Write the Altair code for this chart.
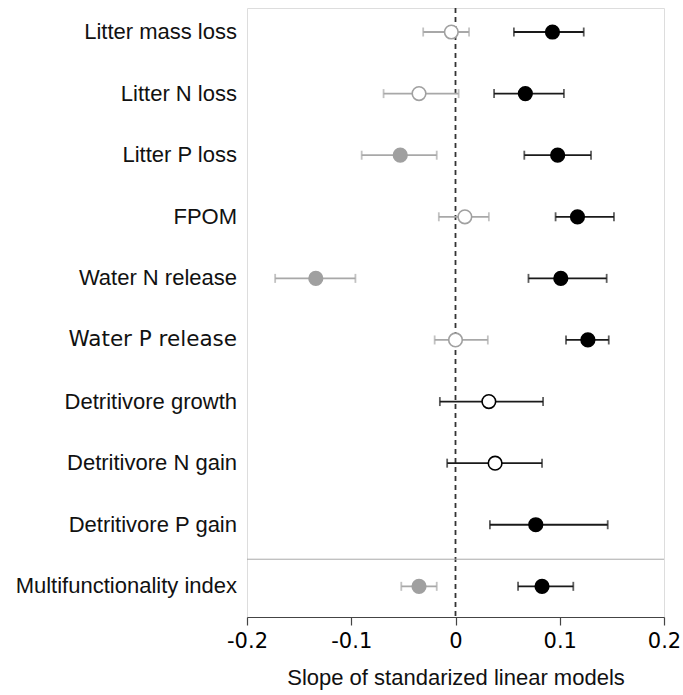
import altair as alt
import pandas as pd

labels = ["Litter mass loss", "Litter N loss", "Litter P loss", "FPOM",
          "Water N release", "Water P release", "Detritivore growth",
          "Detritivore N gain", "Detritivore P gain", "Multifunctionality index"]

# left (grey) series
grey_est = [-0.004, -0.035, -0.053, 0.009, -0.134, 0.000, None, None, None, -0.035]
grey_lo = [-0.031, -0.069, -0.090, -0.016, -0.173, -0.020, None, None, None, -0.052]
grey_hi = [0.013, 0.003, -0.018, 0.032, -0.096, 0.031, None, None, None, -0.018]
grey_filled = [False, False, True, False, True, False, None, None, None, True]

# right (black) series
black_est = [0.093, 0.067, 0.098, 0.117, 0.101, 0.127, 0.032, 0.038, 0.077, 0.083]
black_lo = [0.056, 0.037, 0.066, 0.096, 0.070, 0.106, -0.015, -0.008, 0.033, 0.060]
black_hi = [0.123, 0.104, 0.130, 0.152, 0.145, 0.147, 0.084, 0.083, 0.146, 0.113]
black_filled = [True, True, True, True, True, True, False, False, True, True]

GREY_PT = "#a0a0a0"
GREY_BAR = "#a8a8a8"
BLACK_PT = "#000000"
BLACK_BAR = "#1a1a1a"

rows = []
for i, lab in enumerate(labels):
    if grey_est[i] is not None:
        rows.append(dict(label=lab, idx=i, est=grey_est[i], lo=grey_lo[i], hi=grey_hi[i],
                         stroke=GREY_PT, bar=GREY_BAR,
                         fill=GREY_PT if grey_filled[i] else "#ffffff"))
    rows.append(dict(label=lab, idx=i, est=black_est[i], lo=black_lo[i], hi=black_hi[i],
                     stroke=BLACK_PT, bar=BLACK_BAR,
                     fill=BLACK_PT if black_filled[i] else "#ffffff"))
df = pd.DataFrame(rows)
lab_df = pd.DataFrame({"label": labels, "idx": list(range(len(labels)))})
lab_df["dejavu"] = lab_df["label"] == "Water P release"

xscale = alt.Scale(domain=[-0.2, 0.2], nice=False, zero=False)
yscale = alt.Scale(domain=[-0.39, 9.498], reverse=True, nice=False, zero=False)

xaxis = alt.Axis(values=[-0.2, -0.1, 0, 0.1, 0.2], grid=False,
                 labelExpr="datum.value == 0 ? '0' : (datum.value < 0 ? '-' : '') + format(abs(datum.value), '.1f')",
                 labelFont="DejaVu Sans", labelFontSize=21, labelColor="#000",
                 tickSize=8, tickColor="#444", tickWidth=1.2, domainColor="#444", domainWidth=1.2,
                 labelPadding=5, title="Slope of standarized linear models",
                 titleFont="Liberation Sans", titleFontSize=22, titleFontWeight="normal",
                 titleColor="#111", titlePadding=16, labelFlush=False)

base = alt.Chart(df)

zero_line = alt.Chart(pd.DataFrame({"x": [0]})).mark_rule(
    color="#333", strokeDash=[5, 4], strokeWidth=1.8
).encode(x=alt.X("x:Q", scale=xscale, axis=xaxis))

sep = alt.Chart(pd.DataFrame({"y": [8.56]})).mark_rule(color="#aaaaaa", strokeWidth=1).encode(
    y=alt.Y("y:Q", scale=yscale, axis=None))

bars = base.mark_rule(strokeWidth=1.8).encode(
    x=alt.X("lo:Q", scale=xscale), x2="hi:Q",
    y=alt.Y("idx:Q", scale=yscale, axis=None),
    color=alt.Color("bar:N", scale=None))

cap_lo = base.mark_tick(orient="vertical", size=9, thickness=1.8).encode(
    x=alt.X("lo:Q", scale=xscale), y=alt.Y("idx:Q", scale=yscale),
    color=alt.Color("bar:N", scale=None))
cap_hi = base.mark_tick(orient="vertical", size=9, thickness=1.8).encode(
    x=alt.X("hi:Q", scale=xscale), y=alt.Y("idx:Q", scale=yscale),
    color=alt.Color("bar:N", scale=None))

points = base.mark_point(shape="circle", size=185, strokeWidth=1.6, opacity=1, filled=False).encode(
    x=alt.X("est:Q", scale=xscale), y=alt.Y("idx:Q", scale=yscale),
    fill=alt.Fill("fill:N", scale=None), stroke=alt.Stroke("stroke:N", scale=None))

txt_lib = alt.Chart(lab_df).transform_filter("!datum.dejavu").mark_text(
    align="right", baseline="middle", font="Liberation Sans", fontSize=22, color="#111"
).encode(x=alt.value(-10), y=alt.Y("idx:Q", scale=yscale), text="label:N")
txt_dv = alt.Chart(lab_df).transform_filter("datum.dejavu").mark_text(
    align="right", baseline="middle", font="DejaVu Sans", fontSize=21.5, color="#111"
).encode(x=alt.value(-10), y=alt.Y("idx:Q", scale=yscale), text="label:N")

chart = alt.layer(zero_line, sep, bars, cap_lo, cap_hi, points, txt_lib, txt_dv).properties(
    width=417, height=609,
    autosize=alt.AutoSizeParams(type="none"),
    padding={"left": 247, "top": 8, "right": 19, "bottom": 78},
).configure_view(stroke="#999999", strokeWidth=1.2).configure(background="white")

chart.save("out.html", embed_options={"renderer": "svg", "actions": False})
